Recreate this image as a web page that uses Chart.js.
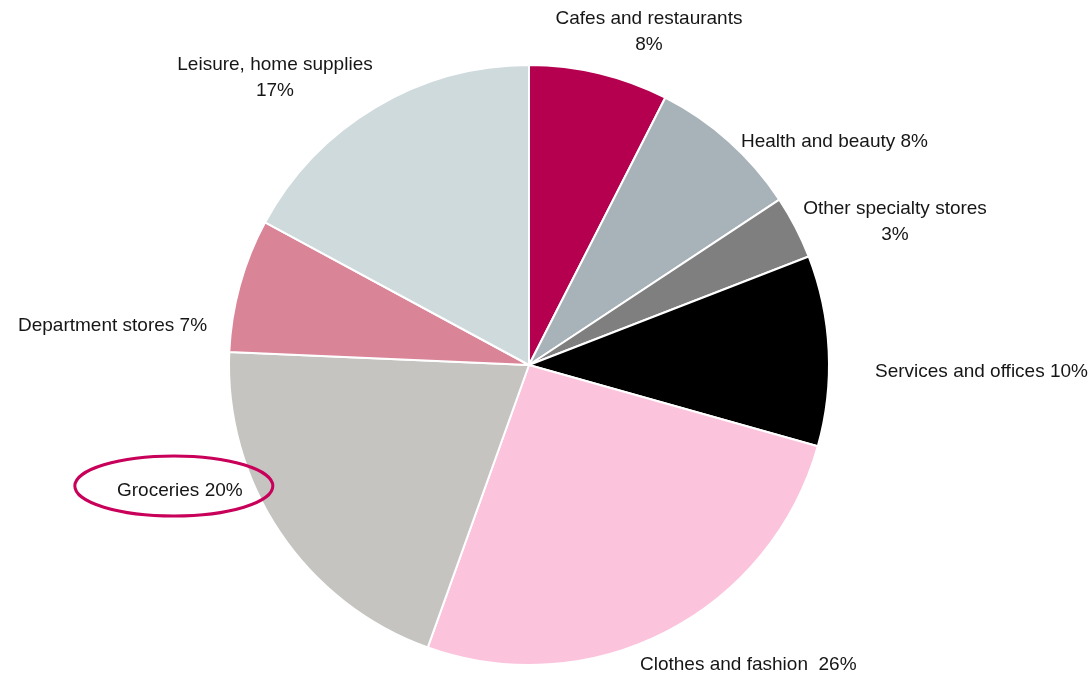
<!DOCTYPE html>
<html>
<head>
<meta charset="utf-8">
<script src="https://cdn.jsdelivr.net/npm/chart.js@4/dist/chart.umd.min.js"></script>
<style>
  html, body { margin: 0; padding: 0; background: #fff; }
  #wrap { position: relative; width: 1090px; height: 677px; }
</style>
</head>
<body>
<div id="wrap"><canvas id="mixChart" width="1090" height="677"></canvas></div>
<script>
// Retail space by category, clockwise from 12 o'clock
const categories = [
  "Cafes and restaurants",
  "Health and beauty",
  "Other specialty stores",
  "Services and offices",
  "Clothes and fashion",
  "Groceries",
  "Department stores",
  "Leisure, home supplies"
];
const shares = [7.5, 8.2, 3.4, 10.25, 26.1, 20.2, 7.2, 17.1];
const sliceColors = ["#b5004f", "#a8b3b9", "#7f7f7f", "#000000", "#fcc3dc", "#c5c4c0", "#d98497", "#cfdadc"];

// where each label sits: [x, y, align, split onto two lines, gap before %]
const labelSpots = [
  [649, 19, "center", true, " "],
  [741, 142, "left", false, " "],
  [895, 209, "center", true, " "],
  [875, 372, "left", false, " "],
  [640, 665, "left", false, "  "],
  [117, 491, "left", false, " "],
  [18, 326, "left", false, " "],
  [275, 65, "center", true, " "]
];
const highlighted = "Groceries";

const FONT = "19px 'Liberation Sans', Arial, sans-serif";

const sliceLabels = {
  id: "sliceLabels",
  afterDraw(chart) {
    const ctx = chart.ctx;
    ctx.save();
    ctx.font = FONT;
    ctx.fillStyle = "#161616";
    ctx.textBaseline = "middle";
    categories.forEach((name, i) => {
      const [x, y, align, twoLines, gap] = labelSpots[i];
      const pct = Math.round(shares[i]) + "%";
      ctx.textAlign = align;
      if (twoLines) {
        ctx.fillText(name, x, y);
        ctx.fillText(pct, x, y + 26);
      } else {
        ctx.fillText(name + gap + pct, x, y);
      }
      if (name === highlighted) {
        const w = ctx.measureText(name + gap + pct).width;
        ctx.beginPath();
        ctx.ellipse(x + w / 2 - 6, y - 5, 99, 30, 0, 0, Math.PI * 2);
        ctx.lineWidth = 3;
        ctx.strokeStyle = "#c8005a";
        ctx.stroke();
      }
    });
    ctx.restore();
  }
};

new Chart(document.getElementById("mixChart"), {
  type: "pie",
  data: {
    labels: categories,
    datasets: [{
      data: shares,
      backgroundColor: sliceColors,
      borderColor: "#ffffff",
      borderWidth: 2
    }]
  },
  options: {
    responsive: false,
    animation: false,
    layout: { padding: { top: 64, bottom: 11, left: 228, right: 260 } },
    plugins: {
      legend: { display: false },
      tooltip: { enabled: false }
    }
  },
  plugins: [sliceLabels]
});
</script>
</body>
</html>
